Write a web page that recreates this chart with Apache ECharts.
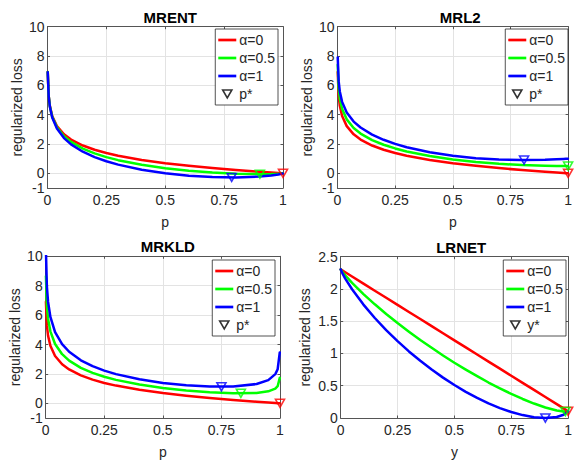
<!DOCTYPE html>
<html><head><meta charset="utf-8">
<script src="https://cdn.jsdelivr.net/npm/echarts@6/dist/echarts.min.js"></script>
<style>html,body{margin:0;padding:0;background:#fff}#c{width:575px;height:464px}</style>
</head><body><div id="c"></div>
<script>
// ---- data ----
const titles = ['MRENT', 'MRL2', 'MRKLD', 'LRNET'];
const seriesNames = ['α=0', 'α=0.5', 'α=1'];
const xTickLabels = ['0', '0.25', '0.5', '0.75', '1'];
const yTicksLoss = [-1, 0, 2, 4, 6, 8, 10];
const yTicksLR = [0, 0.5, 1, 1.5, 2, 2.5];

const pValues = [0.001,0.005,0.01,0.02,0.04,0.07,0.1,0.15,0.2,0.25,0.3,0.4,0.5,0.6,0.7,0.8,0.9,0.95,0.98,0.99,0.999];

const mrentA0  = [6.908,5.298,4.605,3.912,3.219,2.659,2.303,1.897,1.609,1.386,1.204,0.916,0.693,0.511,0.357,0.223,0.105,0.051,0.020,0.010,0.001];
const mrentA05 = [6.904,5.282,4.577,3.863,3.135,2.532,2.140,1.686,1.359,1.105,0.899,0.579,0.346,0.174,0.052,-0.027,-0.058,-0.048,-0.029,-0.018,-0.003];
const mrentA1  = [6.900,5.267,4.549,3.814,3.051,2.405,1.978,1.474,1.109,0.824,0.593,0.243,0.000,-0.162,-0.254,-0.277,-0.220,-0.148,-0.078,-0.046,-0.007];
const mrentMin = [[1,0],[0.902,-0.057],[0.782,-0.278]];

const mrl2A0  = [6.908,5.298,4.605,3.912,3.219,2.659,2.303,1.897,1.609,1.386,1.204,0.916,0.693,0.511,0.357,0.223,0.105,0.051,0.020,0.010,0.001];
const mrl2A05 = [7.407,5.793,5.095,4.393,3.681,3.094,2.713,2.270,1.949,1.699,1.494,1.176,0.943,0.771,0.647,0.563,0.515,0.504,0.501,0.500,0.500];
const mrl2A1  = [7.906,6.288,5.585,4.873,4.142,3.529,3.123,2.642,2.289,2.011,1.784,1.436,1.193,1.031,0.937,0.903,0.925,0.956,0.981,0.990,0.999];
const mrl2Min = [[1,0],[1,0.5],[0.809,0.903]];

const mrkldA0  = [6.908,5.298,4.605,3.912,3.219,2.659,2.303,1.897,1.609,1.386,1.204,0.916,0.693,0.511,0.357,0.223,0.105,0.051,0.020,0.010,0.001];
const mrkldA05 = [8.635,6.624,5.759,4.895,4.034,3.342,2.905,2.412,2.067,1.805,1.594,1.273,1.040,0.868,0.747,0.681,0.707,0.813,1.003,1.164,1.728];
const mrkldA1  = [10.363,7.950,6.913,5.878,4.849,4.025,3.507,2.927,2.525,2.223,1.985,1.630,1.386,1.225,1.138,1.139,1.309,1.575,1.986,2.318,3.456];
const mrkldMin = [[1,0],[0.833,0.676],[0.75,1.125]];

const yValues = [0,0.01,0.02,0.05,0.1,0.15,0.2,0.25,0.3,0.35,0.4,0.45,0.5,0.55,0.6,0.65,0.7,0.75,0.8,0.85,0.9,0.95,0.98,1];
const lrnetA0  = [2.303,2.281,2.259,2.193,2.083,1.973,1.863,1.753,1.643,1.534,1.424,1.314,1.204,1.094,0.984,0.874,0.765,0.655,0.545,0.435,0.325,0.215,0.149,0.105];
const lrnetA05 = [2.303,2.253,2.210,2.093,1.920,1.762,1.613,1.472,1.338,1.210,1.088,0.970,0.857,0.750,0.648,0.550,0.460,0.374,0.295,0.224,0.163,0.116,0.100,0.105];
const lrnetA1  = [2.303,2.225,2.161,1.995,1.758,1.550,1.363,1.191,1.032,0.887,0.751,0.626,0.511,0.406,0.311,0.226,0.154,0.093,0.045,0.012,0.000,0.016,0.051,0.105];
const lrnetMin = [[1,0.105],[0.988,0.099],[0.9,0]];

// ---- build chart ----
const colors = ['#ff0000', '#00ff00', '#0000ff'];
const FONT = "'Liberation Sans', Arial, Helvetica, sans-serif";
const TXT = '#262626';
const AXC = '#555555';
const GRIDC = '#e3e3e3';
const TRI = 'path://M0,0L10,0L5,8.66Z';
const TRI_LEG = 'path://M0,-2.2M0,0L10,0L5,8.66ZM10,10.9';
const LINE_LEG = 'path://M0,0L20,0L20,3L0,3Z';

const grids = [
  {left: 47.5, top: 26.7, width: 235.5, height: 161.3},
  {left: 337.5, top: 26.7, width: 235.5, height: 161.3},
  {left: 45.7, top: 256.3, width: 234.3, height: 161.7},
  {left: 340.7, top: 256.7, width: 231, height: 161.3}
];
const panels = [
  {x: pValues, ys: [mrentA0, mrentA05, mrentA1], mins: mrentMin, yt: yTicksLoss, xName: 'p', star: 'p*', nameGap: 24},
  {x: pValues, ys: [mrl2A0, mrl2A05, mrl2A1], mins: mrl2Min, yt: yTicksLoss, xName: 'p', star: 'p*', nameGap: 24},
  {x: pValues, ys: [mrkldA0, mrkldA05, mrkldA1], mins: mrkldMin, yt: yTicksLoss, xName: 'p', star: 'p*', nameGap: 24},
  {x: yValues, ys: [lrnetA0, lrnetA05, lrnetA1], mins: lrnetMin, yt: yTicksLR, xName: 'y', star: 'y*', nameGap: 29}
];
const legendRight = [297, 7, 300, 9];
const legendTop = [29, 29, 260, 260];

const xAxis = [], yAxis = [], series = [], title = [], legend = [];
panels.forEach((pn, i) => {
  const g = grids[i];
  const ymin = pn.yt[0], ymax = pn.yt[pn.yt.length - 1];
  xAxis.push({
    gridIndex: i, type: 'value', min: 0, max: 1, interval: 0.25,
    name: pn.xName, nameLocation: 'middle', nameGap: 27,
    nameTextStyle: {fontFamily: FONT, fontSize: 14, color: TXT},
    axisLine: {show: true, onZero: false, lineStyle: {color: AXC, width: 1}},
    axisTick: {show: true, inside: true, length: 2.5, lineStyle: {color: AXC}},
    axisLabel: {fontFamily: FONT, fontSize: 14, color: TXT, margin: 5,
      formatter: v => xTickLabels[Math.round(v / 0.25)]},
    splitLine: {show: true, lineStyle: {color: GRIDC, width: 1}}
  });
  xAxis.push({
    gridIndex: i, type: 'value', min: 0, max: 1, interval: 0.25, position: 'top',
    axisLine: {show: true, onZero: false, lineStyle: {color: AXC, width: 1}},
    axisTick: {show: true, inside: true, length: 2.5, lineStyle: {color: AXC}},
    axisLabel: {show: false}, splitLine: {show: false}
  });
  yAxis.push({
    gridIndex: i, type: 'value', min: ymin, max: ymax,
    name: 'regularized loss', nameLocation: 'middle', nameGap: pn.nameGap, nameRotate: 90,
    nameTextStyle: {fontFamily: FONT, fontSize: 14, color: TXT},
    axisLine: {show: true, onZero: false, lineStyle: {color: AXC, width: 1}},
    axisTick: {show: true, inside: true, length: 2.5, lineStyle: {color: AXC}, customValues: pn.yt},
    axisLabel: {fontFamily: FONT, fontSize: 14, color: TXT, margin: 3, customValues: pn.yt},
    splitLine: {show: true, lineStyle: {color: GRIDC, width: 1}}
  });
  yAxis.push({
    gridIndex: i, type: 'value', min: ymin, max: ymax, position: 'right',
    axisLine: {show: true, onZero: false, lineStyle: {color: AXC, width: 1}},
    axisTick: {show: true, inside: true, length: 2.5, lineStyle: {color: AXC}, customValues: pn.yt},
    axisLabel: {show: false}, splitLine: {show: false}
  });
  const xi = i * 2, yi = i * 2;
  pn.ys.forEach((arr, k) => {
    series.push({
      type: 'line', name: seriesNames[k], xAxisIndex: xi, yAxisIndex: yi,
      data: pn.x.map((xv, j) => [xv, arr[j]]),
      symbol: 'none', smooth: false,
      lineStyle: {color: colors[k], width: 2.5, join: 'round', cap: 'round'}, itemStyle: {color: colors[k]},
      z: 2 + k, silent: true
    });
  });
  pn.mins.forEach((pt, k) => {
    series.push({
      type: 'scatter', name: 'min' + i + k, xAxisIndex: xi, yAxisIndex: yi,
      data: [pt], symbol: TRI, symbolSize: [9, 8], clip: false,
      itemStyle: {color: 'rgba(0,0,0,0)', borderColor: colors[k], borderWidth: 1.6},
      z: 6, silent: true
    });
  });
  title.push({
    text: titles[i], left: g.left + g.width / 2, top: g.top - 22, textAlign: 'center',
    textStyle: {fontFamily: FONT, fontSize: 15, fontWeight: 'bold', color: '#000'}
  });
  legend.push({
    orient: 'vertical', right: legendRight[i], top: legendTop[i],
    data: seriesNames.map((n, k) => ({name: n, icon: LINE_LEG, itemStyle: {color: colors[k], borderWidth: 0}}))
      .concat([{name: pn.star, icon: TRI_LEG,
        itemStyle: {color: 'rgba(0,0,0,0)', borderColor: '#000', borderWidth: 1.6}}]),
    itemWidth: 18, itemHeight: 12, itemGap: 4, padding: [4, 3, 4, 3],
    backgroundColor: '#fff', borderColor: '#262626', borderWidth: 0.8, borderRadius: 0,
    textStyle: {fontFamily: FONT, fontSize: 14, color: TXT, padding: [0, 0, 0, -2]},
    selectedMode: false
  });
});
series.push({type: 'scatter', name: 'p*', xAxisIndex: 0, yAxisIndex: 0, data: [], symbol: TRI,
  itemStyle: {color: 'rgba(0,0,0,0)', borderColor: '#000', borderWidth: 1.6}});
series.push({type: 'scatter', name: 'y*', xAxisIndex: 6, yAxisIndex: 6, data: [], symbol: TRI,
  itemStyle: {color: 'rgba(0,0,0,0)', borderColor: '#000', borderWidth: 1.6}});

const chart = echarts.init(document.getElementById('c'), null, {renderer: 'svg'});
chart.setOption({
  animation: false, backgroundColor: '#fff',
  grid: grids.map(g => Object.assign({containLabel: false}, g)),
  title, legend, xAxis, yAxis, series
});
</script></body></html>
